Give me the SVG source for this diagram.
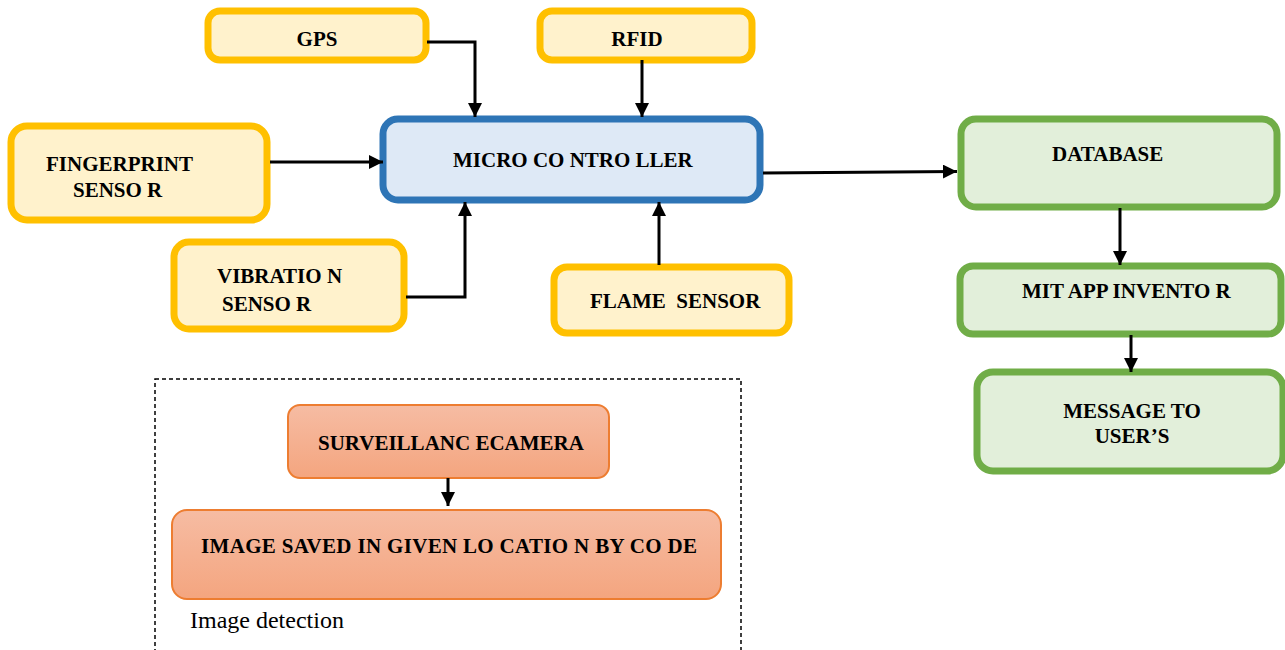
<svg xmlns="http://www.w3.org/2000/svg" width="1285" height="650" viewBox="0 0 1285 650">
  <defs>
    <marker id="arrow" markerUnits="userSpaceOnUse" markerWidth="14" markerHeight="14" refX="14" refY="7" orient="auto">
      <path d="M0,0 L14,7 L0,14 z" fill="#000"/>
    </marker>
    <linearGradient id="orangeFill" x1="0" y1="0" x2="0" y2="1">
      <stop offset="0" stop-color="#f6bca3"/>
      <stop offset="1" stop-color="#f4a57f"/>
    </linearGradient>
    <style>
      .sensor { fill: #fff2cc; stroke: #ffc000; stroke-width: 7; }
      .mcu { fill: #dee9f6; stroke: #2e75b6; stroke-width: 7; }
      .cloud { fill: #e2efda; stroke: #70ad47; stroke-width: 7; }
      .cam { fill: url(#orangeFill); stroke: #ed7d31; stroke-width: 2; }
      .lbl { font-family: 'Liberation Serif', 'Times New Roman', Times, 'DejaVu Serif', serif; font-weight: bold; font-size: 21px; fill: #000; }
      .mid { text-anchor: middle; }
      .note { font-family: 'Liberation Serif', 'Times New Roman', Times, 'DejaVu Serif', serif; font-size: 24px; fill: #000; }
      .wire { fill: none; stroke: #000; stroke-width: 3; }
    </style>
  </defs>

  <rect width="1285" height="650" fill="#fff"/>

  <!-- image detection frame -->
  <g id="image-detection-frame">
    <rect x="155" y="379" width="586" height="300" fill="none" stroke="#000" stroke-width="1.5" stroke-dasharray="4 3"/>
    <text class="note" x="190" y="628">Image detection</text>
  </g>

  <g id="gps">
    <rect class="sensor" x="208" y="11" width="218" height="49" rx="12"/>
    <text class="lbl mid" x="317" y="46">GPS</text>
  </g>

  <g id="rfid">
    <rect class="sensor" x="540" y="11" width="212" height="49" rx="12"/>
    <text class="lbl mid" x="637" y="46">RFID</text>
  </g>

  <g id="fingerprint-sensor">
    <rect class="sensor" x="11" y="126" width="256" height="94" rx="16"/>
    <text class="lbl" x="46" y="171">FINGERPRINT</text>
    <text class="lbl" x="73" y="197">SENSO R</text>
  </g>

  <g id="microcontroller">
    <rect class="mcu" x="383" y="119" width="377" height="81" rx="15"/>
    <text class="lbl" x="453" y="167">MICRO CO NTRO LLER</text>
  </g>

  <g id="vibration-sensor">
    <rect class="sensor" x="174" y="242" width="230" height="87" rx="15"/>
    <text class="lbl" x="217" y="283">VIBRATIO N</text>
    <text class="lbl" x="222" y="311">SENSO R</text>
  </g>

  <g id="flame-sensor">
    <rect class="sensor" x="554" y="267" width="235" height="66" rx="13"/>
    <text class="lbl" x="590" y="308" style="white-space:pre">FLAME  SENSOR</text>
  </g>

  <g id="database">
    <rect class="cloud" x="961" y="119" width="316" height="88" rx="15"/>
    <text class="lbl" x="1052" y="161">DATABASE</text>
  </g>

  <g id="mit-app-inventor">
    <rect class="cloud" x="960" y="266" width="321" height="68" rx="13"/>
    <text class="lbl" x="1022" y="298">MIT APP INVENTO R</text>
  </g>

  <g id="message-to-users">
    <rect class="cloud" x="977" y="372" width="306" height="99" rx="16"/>
    <text class="lbl mid" x="1132" y="418">MESSAGE TO</text>
    <text class="lbl mid" x="1132" y="443">USER’S</text>
  </g>

  <g id="surveillance-camera">
    <rect class="cam" x="288" y="405" width="321" height="73" rx="12"/>
    <text class="lbl" x="318" y="450">SURVEILLANC ECAMERA</text>
  </g>

  <g id="image-saved">
    <rect class="cam" x="172" y="510" width="549" height="89" rx="15"/>
    <text class="lbl" x="201" y="553" textLength="496">IMAGE SAVED IN GIVEN LO CATIO N BY CO DE</text>
  </g>

  <!-- connectors -->
  <g id="connectors">
    <path class="wire" d="M427,42 H475 V117" marker-end="url(#arrow)"/>
    <path class="wire" d="M642,60 V117" marker-end="url(#arrow)"/>
    <path class="wire" d="M270,162 H383" marker-end="url(#arrow)"/>
    <path class="wire" d="M406,297 H465 V202" marker-end="url(#arrow)"/>
    <path class="wire" d="M659,265 V202" marker-end="url(#arrow)"/>
    <path class="wire" d="M763,173 L957,171.5" marker-end="url(#arrow)"/>
    <path class="wire" d="M1120,208 V265" marker-end="url(#arrow)"/>
    <path class="wire" d="M1131,335 V372" marker-end="url(#arrow)"/>
    <path class="wire" d="M448,478 V506" marker-end="url(#arrow)"/>
  </g>
</svg>
